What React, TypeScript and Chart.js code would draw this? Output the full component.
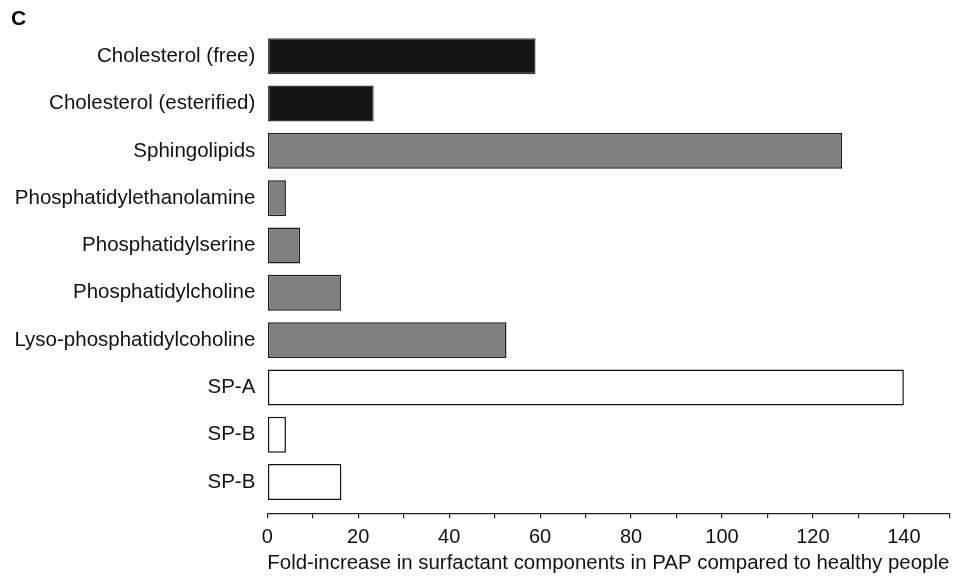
import React, { useEffect, useRef } from "react";
import { Chart, registerables } from "chart.js";

Chart.register(...registerables);

const categories = [
  "Cholesterol (free)",
  "Cholesterol (esterified)",
  "Sphingolipids",
  "Phosphatidylethanolamine",
  "Phosphatidylserine",
  "Phosphatidylcholine",
  "Lyso-phosphatidylcoholine",
  "SP-A",
  "SP-B",
  "SP-B",
];

const foldIncrease = [59, 23.4, 126.4, 4.1, 7.2, 16.2, 52.6, 140, 4.1, 16.3];

const groups = [
  "cholesterol",
  "cholesterol",
  "phospholipid",
  "phospholipid",
  "phospholipid",
  "phospholipid",
  "phospholipid",
  "protein",
  "protein",
  "protein",
];

const xTickValues = [0, 10, 20, 30, 40, 50, 60, 70, 80, 90, 100, 110, 120, 130, 140, 150];

const groupFill: Record<string, string> = {
  cholesterol: "#141414",
  phospholipid: "#808080",
  protein: "#ffffff",
};
const groupBorder: Record<string, string> = {
  cholesterol: "#3a3a3a",
  phospholipid: "#1a1a1a",
  protein: "#111111",
};

export default function App() {
  const ref = useRef<HTMLCanvasElement | null>(null);

  useEffect(() => {
    if (!ref.current) return;
    Chart.defaults.font.family = "'Liberation Sans', Arial, Helvetica, sans-serif";
    Chart.defaults.color = "#111";
    const chart = new Chart(ref.current, {
      type: "bar",
      data: {
        labels: categories.map((_, i) => i),
        datasets: [
          {
            data: foldIncrease.map((v, i) => ({ x: v, y: i })),
            backgroundColor: groups.map((g) => groupFill[g]),
            borderColor: groups.map((g) => groupBorder[g]),
            borderWidth: 1.5,
            borderSkipped: false,
            barPercentage: 0.76,
            categoryPercentage: 1,
          },
        ],
      },
      options: {
        indexAxis: "y",
        animation: false,
        responsive: true,
        maintainAspectRatio: false,
        layout: { padding: { left: 11, right: 10.7, top: 0, bottom: 0 } },
        plugins: {
          legend: { display: false },
          tooltip: { enabled: false },
          title: {
            display: true,
            text: "C",
            align: "start",
            font: { size: 21, weight: "bold" },
            color: "#000",
            padding: { top: 6.4, bottom: 1.0 },
          },
        },
        scales: {
          y: {
            type: "linear",
            reverse: true,
            offset: false,
            min: -0.5,
            max: 9.66,
            afterBuildTicks: (scale: any) => {
              scale.ticks = categories.map((_, i) => ({ value: i }));
            },
            afterFit: (scale: any) => {
              scale.width = 256.3;
            },
            ticks: {
              autoSkip: false,
              padding: 12,
              font: { size: 20.5 },
              color: "#111",
              callback: (v: any) => categories[Number(v)] ?? "",
            },
            grid: { display: false, drawTicks: false, offset: false },
            border: { display: false },
          },
          x: {
            type: "linear",
            min: 0,
            max: 150,
            afterBuildTicks: (scale: any) => {
              scale.ticks = xTickValues.map((v) => ({ value: v }));
            },
            afterFit: (scale: any) => {
              scale.height = 62.7;
            },
            ticks: {
              autoSkip: false,
              maxRotation: 0,
              padding: 7,
              font: { size: 20 },
              color: "#111",
              callback: (v: any) => (Number(v) % 20 === 0 ? String(v) : ""),
            },
            grid: {
              display: true,
              drawOnChartArea: false,
              drawTicks: true,
              tickLength: 5,
              color: "#222",
              lineWidth: 1.2,
            },
            border: { display: true, color: "#222", width: 1.2 },
            title: {
              display: true,
              text: "Fold-increase in surfactant components in PAP compared to healthy people",
              font: { size: 20.5 },
              color: "#111",
              padding: { top: 0, bottom: 0 },
            },
          },
        },
      },
    });
    return () => chart.destroy();
  }, []);

  return (
    <div style={{ position: "fixed", left: 0, top: 0, width: 960, height: 576, background: "#fff" }}>
      <canvas ref={ref} />
    </div>
  );
}
